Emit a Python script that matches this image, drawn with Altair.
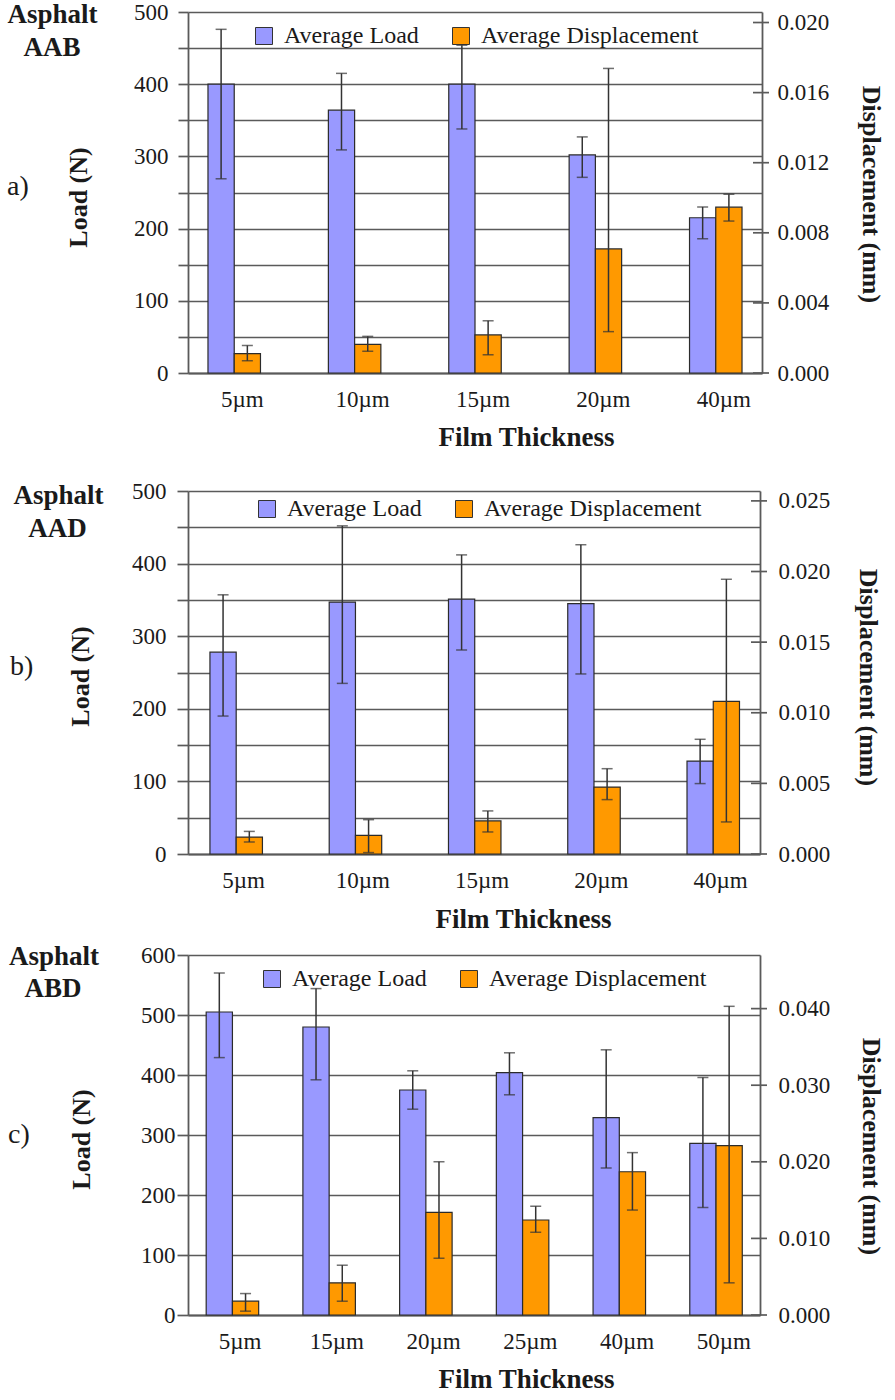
import altair as alt
import pandas as pd

FONT = "Liberation Serif"
SERIES = ["Average Load", "Average Displacement"]
FILL = ["#9999FF", "#FF9900"]
LINE = "#5a5a5a"
INK = "#1a1a1a"
ERR = "#333333"

# ---- Asphalt AAB ----
aab_thickness = ["5µm", "10µm", "15µm", "20µm", "40µm"]
aab_load = [400, 364, 400, 302, 215]
aab_load_low = [269, 309, 338, 271, 186]
aab_load_high = [476, 415, 454, 327, 230]
aab_disp = [0.00110, 0.00163, 0.00217, 0.00708, 0.00946]
aab_disp_low = [0.00070, 0.00124, 0.00104, 0.00236, 0.00867]
aab_disp_high = [0.00157, 0.00209, 0.00298, 0.01738, 0.01020]
aab_load_ticks = [0, 50, 100, 150, 200, 250, 300, 350, 400, 450, 500]
aab_disp_ticks = [0.000, 0.004, 0.008, 0.012, 0.016, 0.020]

# ---- Asphalt AAD ----
aad_thickness = ["5µm", "10µm", "15µm", "20µm", "40µm"]
aad_load = [278, 347, 351, 345, 128]
aad_load_low = [190, 235, 281, 248, 97]
aad_load_high = [357, 452, 412, 426, 158]
aad_disp = [0.00120, 0.00132, 0.00234, 0.00474, 0.01081]
aad_disp_low = [0.00085, 0.00010, 0.00156, 0.00385, 0.00227]
aad_disp_high = [0.00160, 0.00243, 0.00305, 0.00604, 0.01945]
aad_load_ticks = [0, 50, 100, 150, 200, 250, 300, 350, 400, 450, 500]
aad_disp_ticks = [0.000, 0.005, 0.010, 0.015, 0.020, 0.025]

# ---- Asphalt ABD ----
abd_thickness = ["5µm", "15µm", "20µm", "25µm", "40µm", "50µm"]
abd_load = [505, 480, 375, 404, 329, 286]
abd_load_low = [429, 392, 343, 367, 245, 179]
abd_load_high = [570, 544, 407, 437, 442, 396]
abd_disp = [0.0018, 0.0042, 0.0134, 0.0124, 0.0187, 0.0221]
abd_disp_low = [0.0005, 0.0018, 0.0074, 0.0108, 0.0137, 0.0042]
abd_disp_high = [0.0028, 0.0065, 0.0200, 0.0142, 0.0212, 0.0403]
abd_load_ticks = [0, 100, 200, 300, 400, 500, 600]
abd_disp_ticks = [0.000, 0.010, 0.020, 0.030, 0.040]

# panel geometry (pixels)
LAYOUT_A = dict(w=574, h=361, pi=0.564, po=0.166, tx=338, ty=72, lt=10, lp=10,
                ylx=-110, yly=185, yrx=108, yry=182, rp=15, lgx=64, lgy=12,
                asx=-135.5, asy=11, cdx=-136, cdy=44, tgx=-181, tgy=183)
LAYOUT_B = dict(w=572, h=363, pi=0.572, po=0.184, tx=335, ty=73, lt=11, lp=11,
                ylx=-108, yly=185, yrx=107, yry=186, rp=18, lgx=67, lgy=6,
                asx=-129.5, asy=13, cdx=-130.5, cdy=46, tgx=-178, tgy=184)
LAYOUT_C = dict(w=572, h=360, pi=0.462, po=0.188, tx=338, ty=72, lt=11, lp=2,
                ylx=-107, yly=184, yrx=110, yry=191, rp=18, lgx=72, lgy=12,
                asx=-134, asy=10, cdx=-135, cdy=42, tgx=-180, tgy=188)


def note(text, x, y, size, weight, align):
    return alt.Chart(pd.DataFrame({"t": [text]})).mark_text(
        align=align, baseline="alphabetic", fontSize=size, fontWeight=weight, color=INK
    ).encode(x=alt.value(x), y=alt.value(y), text="t:N")


def panel(code, tag, cats, load, load_lo, load_hi, disp, disp_lo, disp_hi,
          load_ticks, disp_ticks, disp_max, lay):
    W, H = lay["w"], lay["h"]
    load_df = pd.DataFrame({"thickness": cats, "series": SERIES[0],
                            "value": load, "lo": load_lo, "hi": load_hi})
    disp_df = pd.DataFrame({"thickness": cats, "series": SERIES[1],
                            "value": disp, "lo": disp_lo, "hi": disp_hi})
    tick_df = pd.DataFrame({"value": disp_ticks})

    x = alt.X("thickness:N", sort=cats,
              scale=alt.Scale(paddingInner=lay["pi"], paddingOuter=lay["po"]),
              axis=alt.Axis(title="Film Thickness", ticks=False, labelAngle=0,
                            labelFontSize=23, labelPadding=15, labelOffset=8,
                            domainColor=LINE, domainWidth=1.8, grid=False,
                            titleFontSize=27, titleFontWeight="bold",
                            titleX=lay["tx"], titleY=lay["ty"],
                            titleBaseline="alphabetic", titleAlign="center"))
    xo = alt.XOffset("series:N", sort=SERIES,
                     scale=alt.Scale(domain=SERIES, paddingInner=0, paddingOuter=0))
    color = alt.Color("series:N", scale=alt.Scale(domain=SERIES, range=FILL),
                      legend=alt.Legend(orient="none", legendX=lay["lgx"], legendY=lay["lgy"],
                                        direction="horizontal", title=None, symbolType="square",
                                        symbolSize=289, symbolStrokeColor="#333333",
                                        symbolStrokeWidth=1, symbolOpacity=1,
                                        labelFontSize=24, labelOffset=8, labelLimit=400,
                                        columnPadding=30, padding=0))

    load_scale = alt.Scale(domain=[0, load_ticks[-1]], nice=False)
    disp_scale = alt.Scale(domain=[0, disp_max], nice=False)

    left_axis = alt.Axis(title="Load (N)", values=load_ticks,
                         labelExpr="datum.value % 100 === 0 ? datum.label : ''",
                         grid=True, gridColor=LINE, gridWidth=1.7,
                         tickColor=LINE, tickWidth=1.7, tickSize=lay["lt"],
                         labelPadding=lay["lp"], labelFontSize=23, labelOverlap=False,
                         domainColor=LINE, domainWidth=1.8,
                         titleFontSize=26, titleFontWeight="bold", titleAngle=270,
                         titleX=lay["ylx"], titleY=lay["yly"],
                         titleBaseline="middle", titleAlign="center")
    right_axis = alt.Axis(title="Displacement (mm)", orient="right", values=disp_ticks,
                          format=".3f", grid=False, ticks=False,
                          labelPadding=lay["rp"], labelFontSize=23, labelOverlap=False,
                          domainColor=LINE, domainWidth=1.8,
                          titleFontSize=26, titleFontWeight="bold", titleAngle=90,
                          titleX=lay["yrx"], titleY=lay["yry"],
                          titleBaseline="middle", titleAlign="center")

    def bars(df, scale, axis):
        return alt.Chart(df).mark_bar(stroke="#2b2b2b", strokeWidth=1.2).encode(
            x=x, xOffset=xo, y=alt.Y("value:Q", scale=scale, axis=axis), color=color)

    def whiskers(df, scale, axis):
        base = alt.Chart(df).encode(x=x, xOffset=xo)
        stem = base.mark_rule(color=ERR, strokeWidth=1.5).encode(
            y=alt.Y("lo:Q", scale=scale, axis=axis), y2="hi:Q")
        low = base.mark_tick(color=ERR, thickness=1.5, size=11).encode(
            y=alt.Y("lo:Q", scale=scale, axis=axis))
        high = base.mark_tick(color=ERR, thickness=1.5, size=11).encode(
            y=alt.Y("hi:Q", scale=scale, axis=axis))
        return [stem, low, high]

    # tick marks crossing the right-hand axis line
    cross_ticks = alt.Chart(tick_df).mark_rule(color=LINE, strokeWidth=1.7).encode(
        x=alt.value(W - 9), x2=alt.value(W + 7),
        y=alt.Y("value:Q", scale=disp_scale, axis=right_axis))

    left = alt.layer(bars(load_df, load_scale, left_axis),
                     *whiskers(load_df, load_scale, left_axis))
    right = alt.layer(bars(disp_df, disp_scale, right_axis),
                      *whiskers(disp_df, disp_scale, right_axis), cross_ticks)
    notes = alt.layer(
        note("Asphalt", lay["asx"], lay["asy"], 27, "bold", "center"),
        note(code, lay["cdx"], lay["cdy"], 27, "bold", "center"),
        note(tag, lay["tgx"], lay["tgy"], 28, "normal", "left"),
    )
    return alt.layer(left, right, notes).resolve_scale(y="independent").properties(width=W, height=H)


panel_a = panel("AAB", "a)", aab_thickness, aab_load, aab_load_low, aab_load_high,
                aab_disp, aab_disp_low, aab_disp_high, aab_load_ticks, aab_disp_ticks,
                0.0206, LAYOUT_A)
panel_b = panel("AAD", "b)", aad_thickness, aad_load, aad_load_low, aad_load_high,
                aad_disp, aad_disp_low, aad_disp_high, aad_load_ticks, aad_disp_ticks,
                0.0257, LAYOUT_B)
panel_c = panel("ABD", "c)", abd_thickness, abd_load, abd_load_low, abd_load_high,
                abd_disp, abd_disp_low, abd_disp_high, abd_load_ticks, abd_disp_ticks,
                0.047, LAYOUT_C)

top_two = alt.vconcat(panel_a, panel_b, spacing=30).resolve_scale(
    color="independent").resolve_legend(color="independent")

chart = alt.vconcat(top_two, panel_c, spacing=11).resolve_scale(
    color="independent"
).resolve_legend(
    color="independent"
).properties(
    padding={"left": 7, "top": 1, "right": 8, "bottom": 0}
).configure(
    font=FONT
).configure_axis(
    labelColor=INK, titleColor=INK
).configure_legend(
    labelColor=INK
).configure_view(
    stroke=None
)

chart.save("out.html", embed_options={"renderer": "svg", "actions": False})
